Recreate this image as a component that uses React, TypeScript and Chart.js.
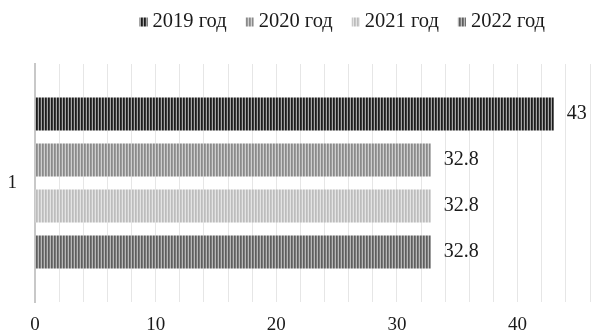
import { useEffect, useRef } from 'react';
import { Chart, registerables } from 'chart.js';

Chart.register(...registerables);

const categories = ['1'];
const seriesLabels = ['2019 год', '2020 год', '2021 год', '2022 год'];
const values2019 = [43];
const values2020 = [32.8];
const values2021 = [32.8];
const values2022 = [32.8];
const xTickLabels = [0, 10, 20, 30, 40];

const stripes2019 = ['#1c1c1c', '#3c3c3c', '#a6a6a6'];
const stripes2020 = ['#8a8a8a', '#9c9c9c', '#cfcfcf'];
const stripes2021 = ['#bcbcbc', '#c8c8c8', '#e4e4e4'];
const stripes2022 = ['#5e5e5e', '#7a7a7a', '#b8b8b8'];

const FONT = "'Liberation Serif', 'Times New Roman', serif";

function makePattern(colors: string[]): CanvasPattern | string {
  const c = document.createElement('canvas');
  c.width = colors.length;
  c.height = 4;
  const ctx = c.getContext('2d');
  if (!ctx) return colors[0];
  colors.forEach((col, i) => {
    ctx.fillStyle = col;
    ctx.fillRect(i, 0, 1, 4);
  });
  return ctx.createPattern(c, 'repeat') || colors[0];
}

const valueLabelPlugin = {
  id: 'valueLabels',
  afterDatasetsDraw(chart: any) {
    const ctx = chart.ctx;
    ctx.save();
    ctx.font = `20px ${FONT}`;
    ctx.fillStyle = '#1a1a1a';
    ctx.textAlign = 'left';
    ctx.textBaseline = 'middle';
    chart.data.datasets.forEach((ds: any, i: number) => {
      const meta = chart.getDatasetMeta(i);
      meta.data.forEach((bar: any, j: number) => {
        ctx.fillText(String(ds.data[j]), bar.x + 13, bar.y);
      });
    });
    ctx.restore();
  },
};

const customLegendPlugin = {
  id: 'customLegend',
  afterDraw(chart: any) {
    const ctx = chart.ctx;
    ctx.save();
    ctx.font = `20.5px ${FONT}`;
    ctx.textBaseline = 'middle';
    ctx.textAlign = 'left';
    const boxW = 8;
    const boxH = 9;
    const gapText = 5;
    const gapItem = 19;
    const items = chart.data.datasets.map((ds: any) => ({
      label: ds.label,
      fill: ds.backgroundColor,
      w: ctx.measureText(ds.label).width,
    }));
    const total =
      items.reduce((s: number, it: any) => s + boxW + gapText + it.w, 0) +
      gapItem * (items.length - 1);
    let x = 545 - total;
    const cy = 22;
    items.forEach((it: any) => {
      ctx.fillStyle = it.fill;
      ctx.fillRect(x, cy - boxH / 2, boxW, boxH);
      x += boxW + gapText;
      ctx.fillStyle = '#1a1a1a';
      ctx.fillText(it.label, x, cy);
      x += it.w + gapItem;
    });
    ctx.restore();
  },
};

export default function App() {
  const ref = useRef<HTMLCanvasElement>(null);

  useEffect(() => {
    if (!ref.current) return;
    const patterns = [stripes2019, stripes2020, stripes2021, stripes2022].map(makePattern);
    const seriesValues = [values2019, values2020, values2021, values2022];
    const chart = new Chart(ref.current, {
      type: 'bar',
      data: {
        labels: categories,
        datasets: seriesLabels.map((label, i) => ({
          label,
          data: seriesValues[i],
          backgroundColor: patterns[i] as any,
          borderWidth: 0,
          categoryPercentage: 0.773,
          barPercentage: 0.72,
        })),
      },
      options: {
        indexAxis: 'y',
        animation: false,
        responsive: true,
        maintainAspectRatio: false,
        layout: { padding: { top: 64, right: 16, left: 0, bottom: 0 } },
        plugins: {
          legend: { display: false },
          tooltip: { enabled: false },
          title: { display: false },
        },
        scales: {
          x: {
            min: 0,
            max: 46,
            grid: { color: '#e6e6e6', lineWidth: 1, drawTicks: false },
            border: { display: false },
            ticks: {
              stepSize: 2,
              autoSkip: false,
              maxRotation: 0,
              padding: 12,
              color: '#1a1a1a',
              font: { family: FONT, size: 19 },
              callback: (v: any) => (xTickLabels.includes(Number(v)) ? String(v) : ''),
            },
            afterFit: (scale: any) => {
              scale.height = 31;
            },
          },
          y: {
            grid: { display: false, drawTicks: false },
            border: { display: true, color: '#c8c8c8', width: 2 },
            ticks: {
              padding: 18,
              color: '#1a1a1a',
              font: { family: FONT, size: 19 },
            },
            afterFit: (scale: any) => {
              scale.width = 35;
            },
          },
        },
      },
      plugins: [valueLabelPlugin, customLegendPlugin],
    });
    return () => chart.destroy();
  }, []);

  return (
    <div style={{ position: 'fixed', left: 0, top: 0, width: 606, height: 333, background: '#fff' }}>
      <canvas ref={ref} style={{ display: 'block' }} />
    </div>
  );
}
